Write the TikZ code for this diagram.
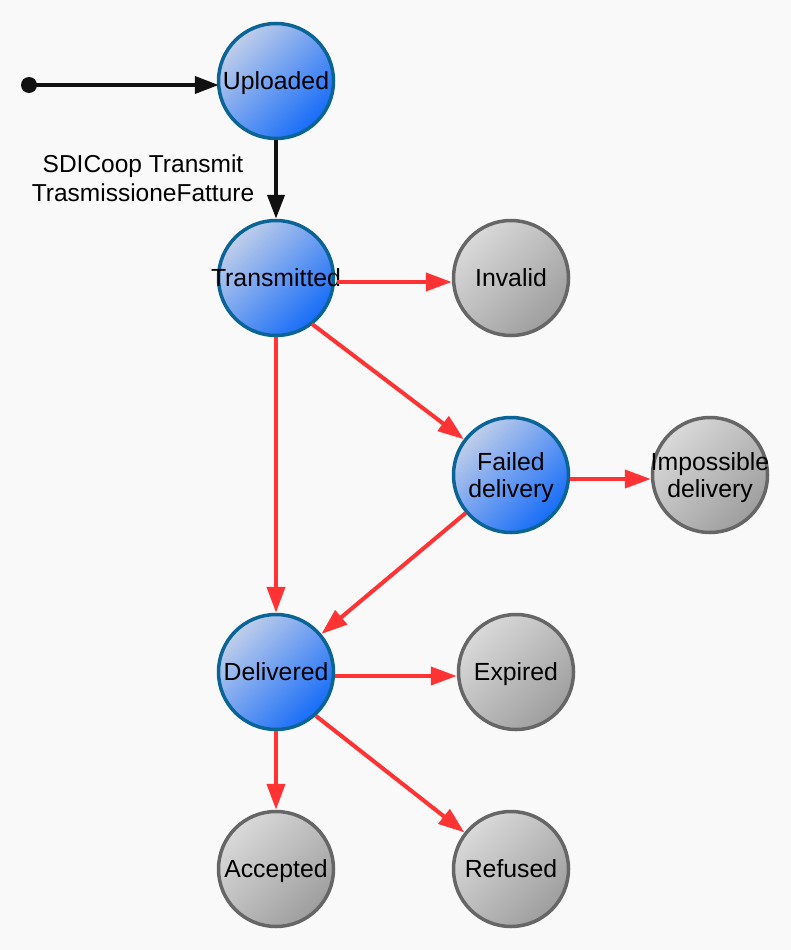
\documentclass[tikz,border=0pt]{standalone}
\usepackage{fontspec}
\setmainfont{Liberation Sans}
\usetikzlibrary{arrows.meta}
\definecolor{bg}{HTML}{F9F9F9}
\definecolor{blueA}{HTML}{C0CEEA}
\definecolor{blueB}{HTML}{166CF8}
\definecolor{blueEdge}{HTML}{0A6496}
\definecolor{greyA}{HTML}{D9D9D9}
\definecolor{greyB}{HTML}{9E9E9E}
\definecolor{greyEdge}{HTML}{666666}
\definecolor{redline}{HTML}{FF3333}
\definecolor{blackline}{HTML}{111111}
\newcommand{\stxt}[1]{\makebox[0pt][c]{\raisebox{-9.5pt}[0pt][0pt]{\begin{tabular}{@{}c@{}}#1\end{tabular}}}}
\tikzset{
  statebase/.style={circle, minimum size=115pt, inner sep=0pt, line width=3.5pt,
    font=\fontsize{24.8}{27.5}\selectfont, text=black, shading angle=45},
  active/.style={statebase, draw=blueEdge, top color=blueA, bottom color=blueB, shading angle=45},
  final/.style={statebase, draw=greyEdge, top color=greyA, bottom color=greyB, shading angle=45},
  blk/.style={draw=blackline, line width=4pt, -{Triangle[length=24pt,width=17pt]}},
  redarr/.style={draw=redline, line width=4pt, -{Triangle[length=26pt,width=18pt]}},
}
\begin{document}
\begin{tikzpicture}[x=1pt,y=-1pt]
\fill[bg] (0,0) rectangle (791,950);
\useasboundingbox (0,0) rectangle (791,950);

\node[active] (up) at (276,81) {\stxt{Uploaded}};
\node[active] (tr) at (276,278) {\stxt{Transmitted}};
\node[final] (inv) at (511,278) {\stxt{Invalid}};
\node[active] (fd) at (511,475) {\stxt{Failed\\delivery}};
\node[final] (imp) at (710,475) {\stxt{Impossible\\delivery}};
\node[active] (del) at (276,672) {\stxt{Delivered}};
\node[final] (exp) at (516,672) {\stxt{Expired}};
\node[final] (acc) at (276,869) {\stxt{Accepted}};
\node[final] (ref) at (511,869) {\stxt{Refused}};

\fill[blackline] (29,85) circle (8);
\coordinate (start) at (29,85);
\node[align=center, font=\fontsize{24.5}{29}\selectfont, inner sep=0pt] (lbl) at (143,178) {SDICoop Transmit\\TrasmissioneFatture};

\draw[blk] (start) -- ([xshift=2pt,yshift=-4pt]up.west);
\draw[blk] (up) -- (tr);

\draw[redarr] ([xshift=2pt,yshift=-4pt]tr.east) -- ([yshift=-4pt]inv.west);
\draw[redarr] ([xshift=-6pt,yshift=-4pt]tr.south east) -- (fd);
\draw[redarr] (tr) -- (del);
\draw[redarr] ([yshift=-4pt]fd.east) -- ([yshift=-4pt]imp.west);
\draw[redarr] (fd) -- (del);
\draw[redarr] ([yshift=-4pt]del.east) -- ([yshift=-4pt]exp.west);
\draw[redarr] (del) -- (acc);
\draw[redarr] ([xshift=-2pt,yshift=-2pt]del.south east) -- (ref);
\end{tikzpicture}
\end{document}
